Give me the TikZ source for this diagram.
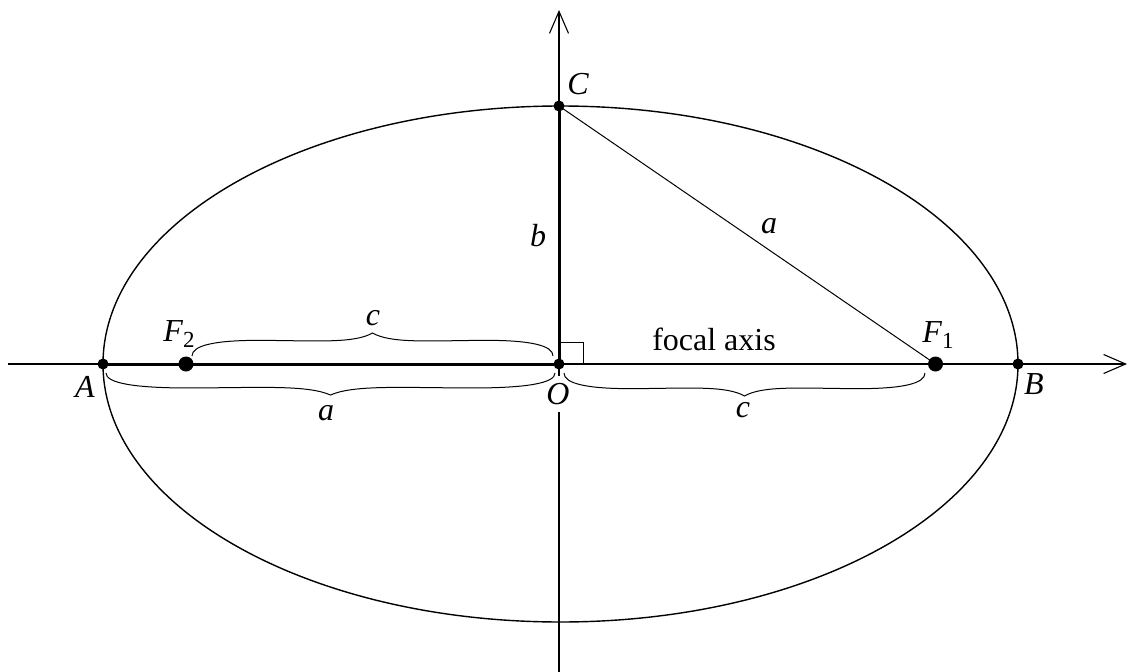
\documentclass[tikz,border=0pt]{standalone}
\usepackage{fontspec}
\setmainfont{Liberation Serif}
\usetikzlibrary{arrows.meta}
\newcommand\mybrace[4]{%
  \draw[brc] (#1,#3)
    .. controls ({#1},{#3+0.45*#4}) and ({#1+0.06*(#2-#1)},{#3+0.7*#4}) .. ({#1+0.2*(#2-#1)},{#3+0.68*#4})
    .. controls ({#1+0.35*(#2-#1)},{#3+0.66*#4}) and ({#1+0.45*(#2-#1)},{#3+0.55*#4}) .. ({#1+0.5*(#2-#1)},{#3+#4})
    .. controls ({#1+0.55*(#2-#1)},{#3+0.55*#4}) and ({#1+0.65*(#2-#1)},{#3+0.66*#4}) .. ({#1+0.8*(#2-#1)},{#3+0.68*#4})
    .. controls ({#1+0.94*(#2-#1)},{#3+0.7*#4}) and ({#2},{#3+0.45*#4}) .. (#2,#3);}
\begin{document}
\begin{tikzpicture}[x=1pt,y=-1pt,
  axis/.style={line width=1.1pt,-{Straight Barb[length=22pt,width=19pt,line width=1.1pt]}},
  thk/.style={line width=3pt},
  thn/.style={line width=1pt},
  brc/.style={line width=1pt},
  ell/.style={line width=1.4pt},
  sdot/.style={circle,fill=black,inner sep=0pt,minimum size=11pt},
  bdot/.style={circle,fill=black,inner sep=0pt,minimum size=15pt},
  lbl/.style={font=\fontsize{32}{36}\selectfont\itshape,inner sep=0pt},
  txt/.style={font=\fontsize{32}{36}\selectfont,inner sep=0pt}]
\useasboundingbox (0,0) rectangle (1128,672);
% coordinates
\coordinate (xs) at (8,364);
\coordinate (xe) at (1127,364);
\coordinate (ys) at (559,672);
\coordinate (ye) at (559,10);
\coordinate (pA) at (103,364);
\coordinate (pB) at (1018,364);
\coordinate (pC) at (559,106);
\coordinate (pO) at (559,364);
\coordinate (pF1) at (935.5,364);
\coordinate (pF2) at (186,364);
% axes
\draw[axis] (xs) -- (xe);
\draw[axis] (ys) -- (ye);
% ellipse
\draw[ell] (560.5,364) ellipse [x radius=457.5, y radius=258];
% thick segments
\draw[thk] (pA) -- (pO);
\draw[thk] (pO) -- (pC);
\draw[thn] (pC) -- (pF1);
% right angle
\draw[thn] (559,342) rectangle (583,364);
% O label with white background
\node[lbl,fill=white,inner xsep=1pt,inner ysep=7pt] (lO) at (558,394) {O};
% braces
\mybrace{192}{553}{356}{-23}
\mybrace{106}{555}{373}{22}
\mybrace{564}{925}{373}{23}
% dots
\node[sdot] (dA) at (pA) {};
\node[sdot] (dB) at (pB) {};
\node[sdot] (dC) at (pC) {};
\node[sdot] (dO) at (pO) {};
\node[bdot] (dF1) at (pF1) {};
\node[bdot] (dF2) at (pF2) {};
% labels
\node[lbl] (lA) at (85,387) {A};
\node[lbl] (lB) at (1034,384) {B};
\node[lbl] (lC) at (578,84) {C};
\node[lbl] (lF1) at (938,335) {F\raisebox{-0.35ex}{\upshape\fontsize{23}{24}\selectfont 1}};
\node[lbl] (lF2) at (179,334) {F\raisebox{-0.35ex}{\upshape\fontsize{23}{24}\selectfont 2}};
\node[lbl] (lb) at (538,236) {b};
\node[lbl] (la1) at (769,226) {a};
\node[lbl] (lc1) at (373,318) {c};
\node[lbl] (la2) at (326,413) {a};
\node[lbl] (lc2) at (743,410) {c};
\node[txt] (lfa) at (714,339) {focal axis};
\end{tikzpicture}
\end{document}
